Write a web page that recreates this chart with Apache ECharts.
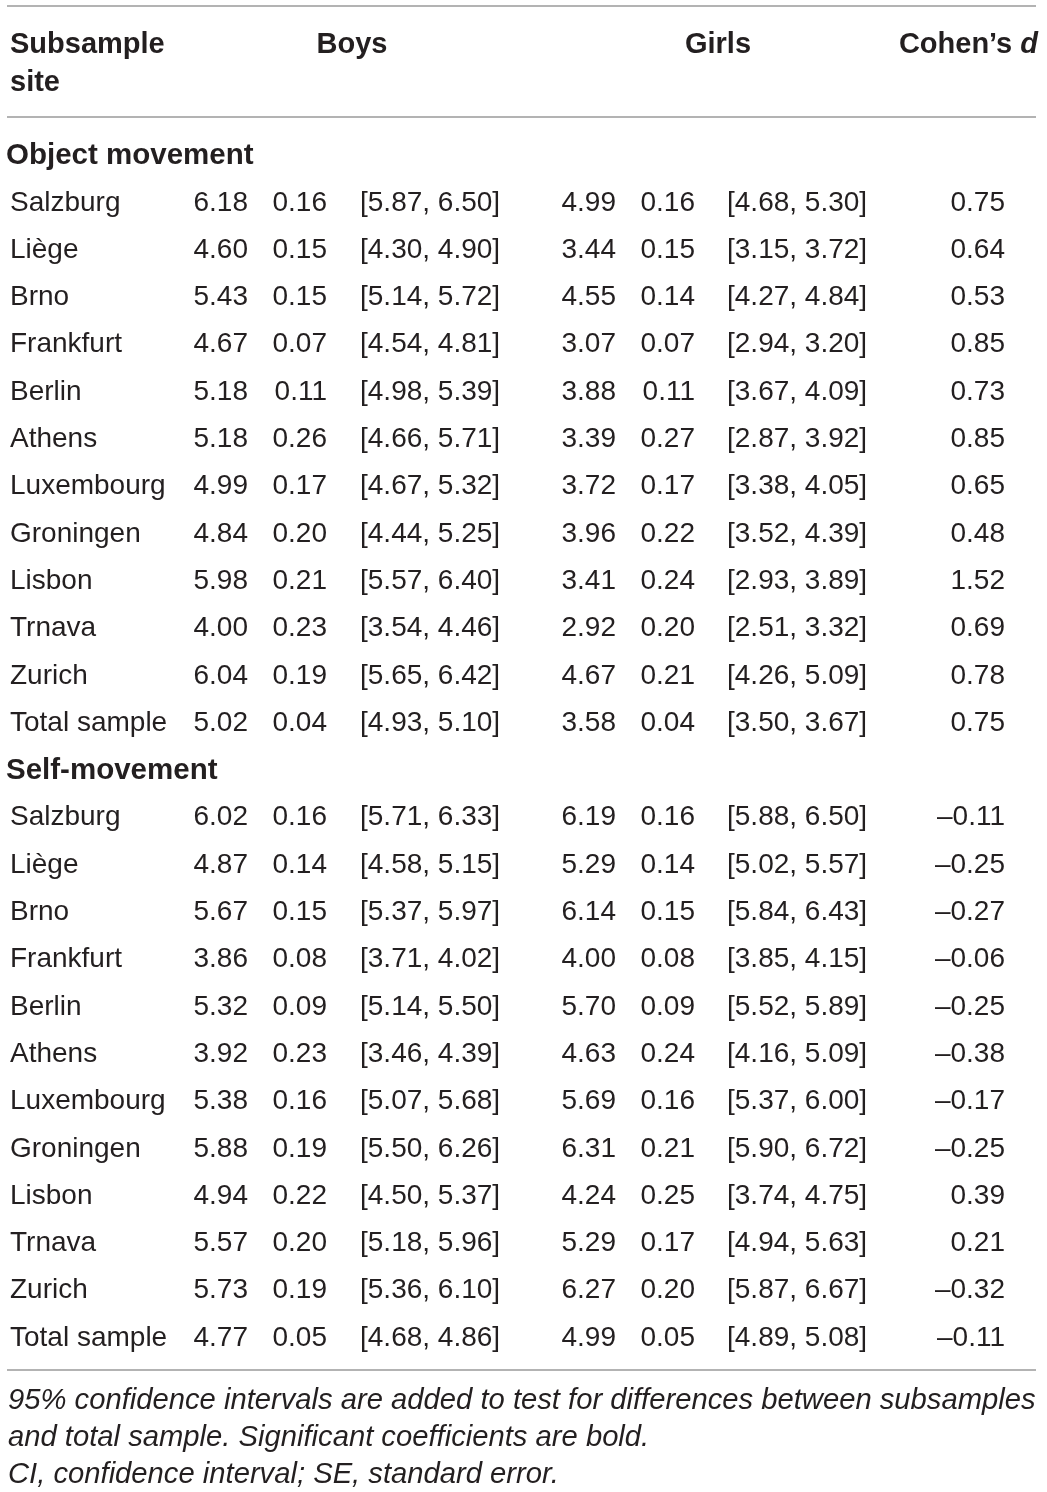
<!DOCTYPE html>
<html>
<head>
<meta charset="utf-8">
<script src="https://cdn.jsdelivr.net/npm/echarts@6/dist/echarts.min.js"></script>
<style>
html,body{margin:0;padding:0;background:#fff;}
#chart{width:1047px;height:1492px;}
</style>
</head>
<body>
<div id="chart"></div>
<script>
// ---------- DATA ----------
const sites = ['Salzburg','Liège','Brno','Frankfurt','Berlin','Athens','Luxembourg','Groningen','Lisbon','Trnava','Zurich','Total sample'];
const sections = ['Object movement','Self-movement'];
const headers = ['Subsample', 'site', 'Boys', 'Girls', 'Cohen’s ', 'd'];
const footnotes = [
  '95% confidence intervals are added to test for differences between subsamples',
  'and total sample. Significant coefficients are bold.',
  'CI, confidence interval; SE, standard error.'
];

// Object movement
const objBoysM   = [6.18,4.60,5.43,4.67,5.18,5.18,4.99,4.84,5.98,4.00,6.04,5.02];
const objBoysSE  = [0.16,0.15,0.15,0.07,0.11,0.26,0.17,0.20,0.21,0.23,0.19,0.04];
const objBoysLo  = [5.87,4.30,5.14,4.54,4.98,4.66,4.67,4.44,5.57,3.54,5.65,4.93];
const objBoysHi  = [6.50,4.90,5.72,4.81,5.39,5.71,5.32,5.25,6.40,4.46,6.42,5.10];
const objGirlsM  = [4.99,3.44,4.55,3.07,3.88,3.39,3.72,3.96,3.41,2.92,4.67,3.58];
const objGirlsSE = [0.16,0.15,0.14,0.07,0.11,0.27,0.17,0.22,0.24,0.20,0.21,0.04];
const objGirlsLo = [4.68,3.15,4.27,2.94,3.67,2.87,3.38,3.52,2.93,2.51,4.26,3.50];
const objGirlsHi = [5.30,3.72,4.84,3.20,4.09,3.92,4.05,4.39,3.89,3.32,5.09,3.67];
const objD       = [0.75,0.64,0.53,0.85,0.73,0.85,0.65,0.48,1.52,0.69,0.78,0.75];

// Self-movement
const selfBoysM   = [6.02,4.87,5.67,3.86,5.32,3.92,5.38,5.88,4.94,5.57,5.73,4.77];
const selfBoysSE  = [0.16,0.14,0.15,0.08,0.09,0.23,0.16,0.19,0.22,0.20,0.19,0.05];
const selfBoysLo  = [5.71,4.58,5.37,3.71,5.14,3.46,5.07,5.50,4.50,5.18,5.36,4.68];
const selfBoysHi  = [6.33,5.15,5.97,4.02,5.50,4.39,5.68,6.26,5.37,5.96,6.10,4.86];
const selfGirlsM  = [6.19,5.29,6.14,4.00,5.70,4.63,5.69,6.31,4.24,5.29,6.27,4.99];
const selfGirlsSE = [0.16,0.14,0.15,0.08,0.09,0.24,0.16,0.21,0.25,0.17,0.20,0.05];
const selfGirlsLo = [5.88,5.02,5.84,3.85,5.52,4.16,5.37,5.90,3.74,4.94,5.87,4.89];
const selfGirlsHi = [6.50,5.57,6.43,4.15,5.89,5.09,6.00,6.72,4.75,5.63,6.67,5.08];
const selfD       = [-0.11,-0.25,-0.27,-0.06,-0.25,-0.38,-0.17,-0.25,0.39,0.21,-0.32,-0.11];

// ---------- LAYOUT ----------
const W = 1047, H = 1492;
const FONT = '"Liberation Sans", Arial, Helvetica, sans-serif';
const INK = '#231f20';
const RULE = '#9a9a9a';
const FS = 28, FSB = 29;
const col = { name: 10, bM: 248, bSE: 327, bCI: 360, gM: 616, gSE: 695, gCI: 727, d: 1005, boys: 352, girls: 718, cohen: 1038 };
const rowTop = 155.5, rowStep = 47.3;
const rowY = r => rowTop + rowStep * r;
const ruleL = 7, ruleR = 1036;
const rules = [6, 117, 1370];
const headY = [45, 83];
const footY = [1401, 1438, 1475];

function fmt(v){ const s = Math.abs(v).toFixed(2); return v < 0 ? '\u2013' + s : s; }
function ci(lo, hi){ return '[' + lo.toFixed(2) + ', ' + hi.toFixed(2) + ']'; }

// fit footnote font size to the reference line width
function measure(text, font){
  const c = document.createElement('canvas').getContext('2d');
  c.font = font; return c.measureText(text).width;
}
const FOOT_FONT = '"Liberation Sans Narrow", "Liberation Sans", Arial, sans-serif';
const footW = measure(footnotes[0], 'italic 28px ' + FOOT_FONT);
const footSize = Math.min(30, 28 * (ruleR - 8) / footW);

const cells = [];
function add(x, y, text, align, opts){ cells.push(Object.assign({ value:[x, y], text, align }, opts || {})); }

// headers
add(col.name, headY[0], headers[0], 'left', {bold:true});
add(col.name, headY[1], headers[1], 'left', {bold:true});
add(col.boys, headY[0], headers[2], 'center', {bold:true});
add(col.girls, headY[0], headers[3], 'center', {bold:true});
add(col.cohen, headY[0], '{a|' + headers[4] + '}{b|' + headers[5] + '}', 'right', {rich:true});

const blocks = [
  [objBoysM, objBoysSE, objBoysLo, objBoysHi, objGirlsM, objGirlsSE, objGirlsLo, objGirlsHi, objD],
  [selfBoysM, selfBoysSE, selfBoysLo, selfBoysHi, selfGirlsM, selfGirlsSE, selfGirlsLo, selfGirlsHi, selfD]
];
let r = 0;
blocks.forEach((b, bi) => {
  add(6, rowY(r), sections[bi], 'left', {bold:true, big:true});
  r++;
  sites.forEach((s, i) => {
    const y = rowY(r);
    add(col.name, y, s, 'left');
    add(col.bM, y, fmt(b[0][i]), 'right');
    add(col.bSE, y, fmt(b[1][i]), 'right');
    add(col.bCI, y, ci(b[2][i], b[3][i]), 'left');
    add(col.gM, y, fmt(b[4][i]), 'right');
    add(col.gSE, y, fmt(b[5][i]), 'right');
    add(col.gCI, y, ci(b[6][i], b[7][i]), 'left');
    add(col.d, y, fmt(b[8][i]), 'right');
    r++;
  });
});
footnotes.forEach((f, i) => add(8, footY[i], f, 'left', {italic:true, foot:true}));

const chart = echarts.init(document.getElementById('chart'), null, {renderer:'canvas'});
chart.setOption({
  animation: false,
  backgroundColor: '#ffffff',
  grid: { left: 0, right: 0, top: 0, bottom: 0 },
  xAxis: { type: 'value', min: 0, max: W, show: false },
  yAxis: { type: 'value', min: 0, max: H, inverse: true, show: false },
  series: [
    {
      type: 'custom',
      coordinateSystem: 'cartesian2d',
      data: rules.map(y => [ruleL, y, ruleR]),
      renderItem(params, api){
        const a = api.coord([api.value(0), api.value(1)]);
        const b = api.coord([api.value(2), api.value(1)]);
        return { type:'line', shape:{x1:a[0], y1:a[1], x2:b[0], y2:b[1]}, style:{stroke:RULE, lineWidth:1.5} };
      }
    },
    {
      type: 'custom',
      coordinateSystem: 'cartesian2d',
      data: cells.map(c => c.value),
      renderItem(params, api){
        const c = cells[params.dataIndex];
        const p = api.coord([api.value(0), api.value(1)]);
        const style = {
          text: c.text, align: c.align, verticalAlign: 'middle',
          fontFamily: c.foot ? FOOT_FONT : FONT,
          fontSize: c.foot ? footSize : (c.big ? 29.5 : (c.bold ? FSB : FS)),
          fontWeight: c.bold ? 'bold' : 'normal',
          fontStyle: c.italic ? 'italic' : 'normal',
          fill: INK
        };
        if (c.rich) {
          style.rich = {
            a: { fontFamily: FONT, fontSize: FSB, fontWeight: 'bold', fill: INK, color: INK },
            b: { fontFamily: FONT, fontSize: FSB, fontWeight: 'bold', fontStyle: 'italic', fill: INK, color: INK }
          };
        }
        return { type:'text', x: p[0], y: p[1], style };
      }
    }
  ]
});
</script>
</body>
</html>
